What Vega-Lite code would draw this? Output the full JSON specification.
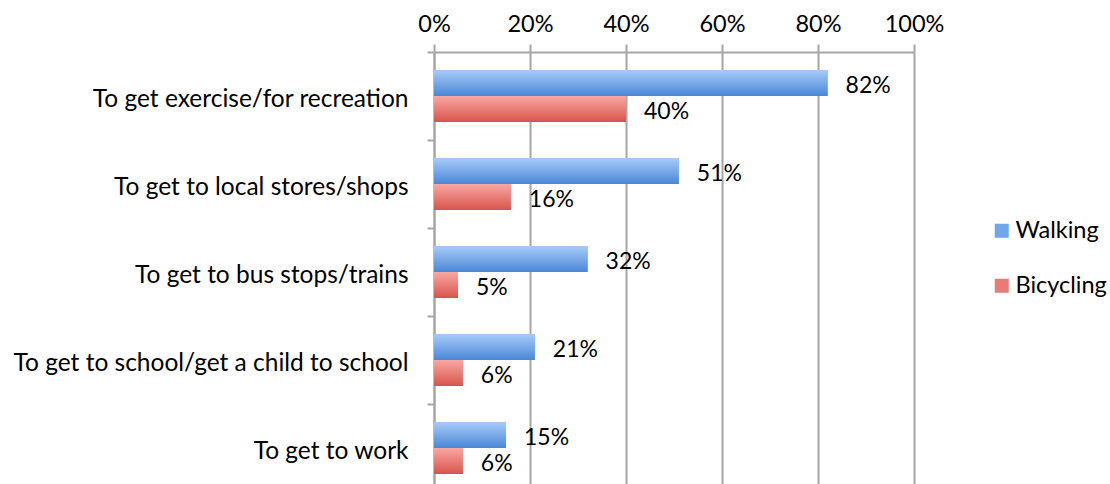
{
  "$schema": "https://vega.github.io/schema/vega-lite/v6.json",
  "width": 480,
  "height": 440,
  "autosize": {"type": "none"},
  "padding": {"left": 434, "top": 52, "right": 196, "bottom": 0},
  "background": "white",
  "config": {
    "font": "Lato",
    "view": {"stroke": null}
  },
  "data": {
    "values": [
      {"purpose": "To get exercise/for recreation", "mode": "Walking", "value": 0.82},
      {"purpose": "To get exercise/for recreation", "mode": "Bicycling", "value": 0.40},
      {"purpose": "To get to local stores/shops", "mode": "Walking", "value": 0.51},
      {"purpose": "To get to local stores/shops", "mode": "Bicycling", "value": 0.16},
      {"purpose": "To get to bus stops/trains", "mode": "Walking", "value": 0.32},
      {"purpose": "To get to bus stops/trains", "mode": "Bicycling", "value": 0.05},
      {"purpose": "To get to school/get a child to school", "mode": "Walking", "value": 0.21},
      {"purpose": "To get to school/get a child to school", "mode": "Bicycling", "value": 0.06},
      {"purpose": "To get to work", "mode": "Walking", "value": 0.15},
      {"purpose": "To get to work", "mode": "Bicycling", "value": 0.06}
    ]
  },
  "encoding": {
    "y": {
      "field": "purpose",
      "type": "nominal",
      "sort": ["To get exercise/for recreation", "To get to local stores/shops", "To get to bus stops/trains", "To get to school/get a child to school", "To get to work"],
      "scale": {"paddingInner": 0, "paddingOuter": 0},
      "axis": {
        "title": null,
        "tickBand": "extent",
        "grid": false,
        "domainColor": "#a6a6a6",
        "domainWidth": 2,
        "tickColor": "#a6a6a6",
        "tickWidth": 2,
        "tickSize": 7,
        "labelFontSize": 24.5,
        "labelColor": "#000000",
        "labelPadding": 19,
        "labelOffset": 3,
        "labelLimit": 500
      }
    },
    "yOffset": {
      "field": "mode",
      "type": "nominal",
      "sort": ["Walking", "Bicycling"],
      "scale": {"paddingInner": 0, "paddingOuter": 0.692}
    },
    "x": {
      "field": "value",
      "type": "quantitative",
      "scale": {"domain": [0, 1]},
      "axis": {
        "orient": "top",
        "values": [0, 0.2, 0.4, 0.6, 0.8, 1],
        "format": ".0%",
        "title": null,
        "grid": true,
        "gridColor": "#a6a6a6",
        "gridWidth": 2,
        "domainColor": "#a6a6a6",
        "domainWidth": 2,
        "tickColor": "#a6a6a6",
        "tickWidth": 2,
        "tickSize": 8,
        "labelFontSize": 23.5,
        "labelColor": "#000000",
        "labelPadding": 8,
        "labelFlush": false,
        "labelOverlap": false
      }
    }
  },
  "layer": [
    {
      "mark": {"type": "bar"},
      "encoding": {
        "color": {
          "field": "mode",
          "type": "nominal",
          "sort": ["Walking", "Bicycling"],
          "scale": {"domain": ["Walking", "Bicycling"], "range": ["#72a6ea", "#ea7a74"]},
          "legend": {
            "title": null,
            "orient": "none",
            "legendX": 556,
            "legendY": 167,
            "symbolType": "square",
            "symbolSize": 196,
            "symbolStrokeWidth": 0,
            "labelFontSize": 23.5,
            "labelColor": "#000000",
            "labelOffset": 2,
            "rowPadding": 30,
            "padding": 0
          }
        }
      }
    },
    {
      "transform": [{"filter": "datum.mode === 'Walking'"}],
      "mark": {
        "type": "bar",
        "color": {
          "gradient": "linear",
          "x1": 0, "y1": 0, "x2": 0, "y2": 1,
          "stops": [{"offset": 0, "color": "#a8cbf8"}, {"offset": 1, "color": "#4a87d7"}]
        }
      }
    },
    {
      "transform": [{"filter": "datum.mode === 'Bicycling'"}],
      "mark": {
        "type": "bar",
        "color": {
          "gradient": "linear",
          "x1": 0, "y1": 0, "x2": 0, "y2": 1,
          "stops": [{"offset": 0, "color": "#f9a8a3"}, {"offset": 1, "color": "#d8544d"}]
        }
      }
    },
    {
      "mark": {"type": "text", "align": "left", "baseline": "middle", "dx": 18, "dy": 3, "fontSize": 23, "color": "#000000"},
      "encoding": {"text": {"field": "value", "type": "quantitative", "format": ".0%"}}
    }
  ]
}
